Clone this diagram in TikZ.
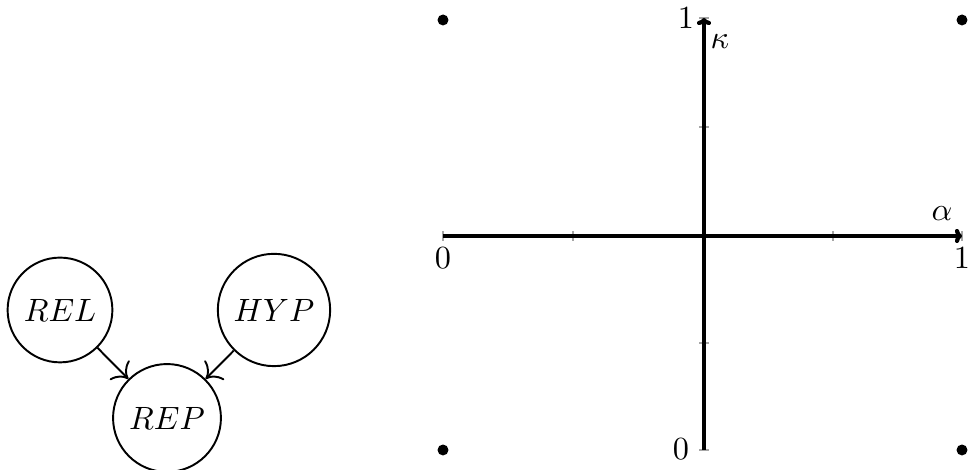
\documentclass[tikz,border=0pt]{standalone}
\usetikzlibrary{arrows.meta,positioning}
\tikzset{
  state/.style={draw, circle, semithick, minimum size=32pt, inner sep=3.5pt},
  edge/.style={-{To[scale=1.4]}, semithick},
  axisline/.style={-{To[length=2.2pt,width=4.4pt]}, line width=1.3pt},
  tickline/.style={gray!70, thin},
  corner/.style={circle, fill, inner sep=0pt, minimum size=3.4pt}
}
\begin{document}
\begin{tikzpicture}[x=0.31pt,y=-0.31pt]
  \useasboundingbox (0,0) rectangle (968,470);
  % dependency graph
  \node[state] (rel) at (60,310) {$REL$};
  \node[state] (hyp) at (274,310) {$HYP$};
  \node[state] (rep) at (167,418) {$REP$};
  \draw[edge] (rel) -- (rep);
  \draw[edge] (hyp) -- (rep);
  % alpha / kappa plane
  \coordinate (xl) at (443,236);
  \coordinate (xr) at (962,236);
  \coordinate (yb) at (704,450);
  \coordinate (yt) at (704,18);
  \foreach \x in {443,573,833,962}
    \draw[tickline] (\x,231) -- (\x,241);
  \foreach \y in {18,127,343,450}
    \draw[tickline] (699,\y) -- (709,\y);
  \draw[axisline] (xl) -- (xr);
  \draw[axisline] (yb) -- (yt);
  \node (x0) at (443,258) {$0$};
  \node (x1) at (962,258) {$1$};
  \node (y1) at (686,18) {$1$};
  \node (y0) at (681,449) {$0$};
  \node (alpha) at (942,214) {$\alpha$};
  \node (kappa) at (720,42) {$\kappa$};
  \node[corner] (tl) at (443,20) {};
  \node[corner] (tr) at (962,20) {};
  \node[corner] (bl) at (443,450) {};
  \node[corner] (br) at (962,450) {};
\end{tikzpicture}
\end{document}
